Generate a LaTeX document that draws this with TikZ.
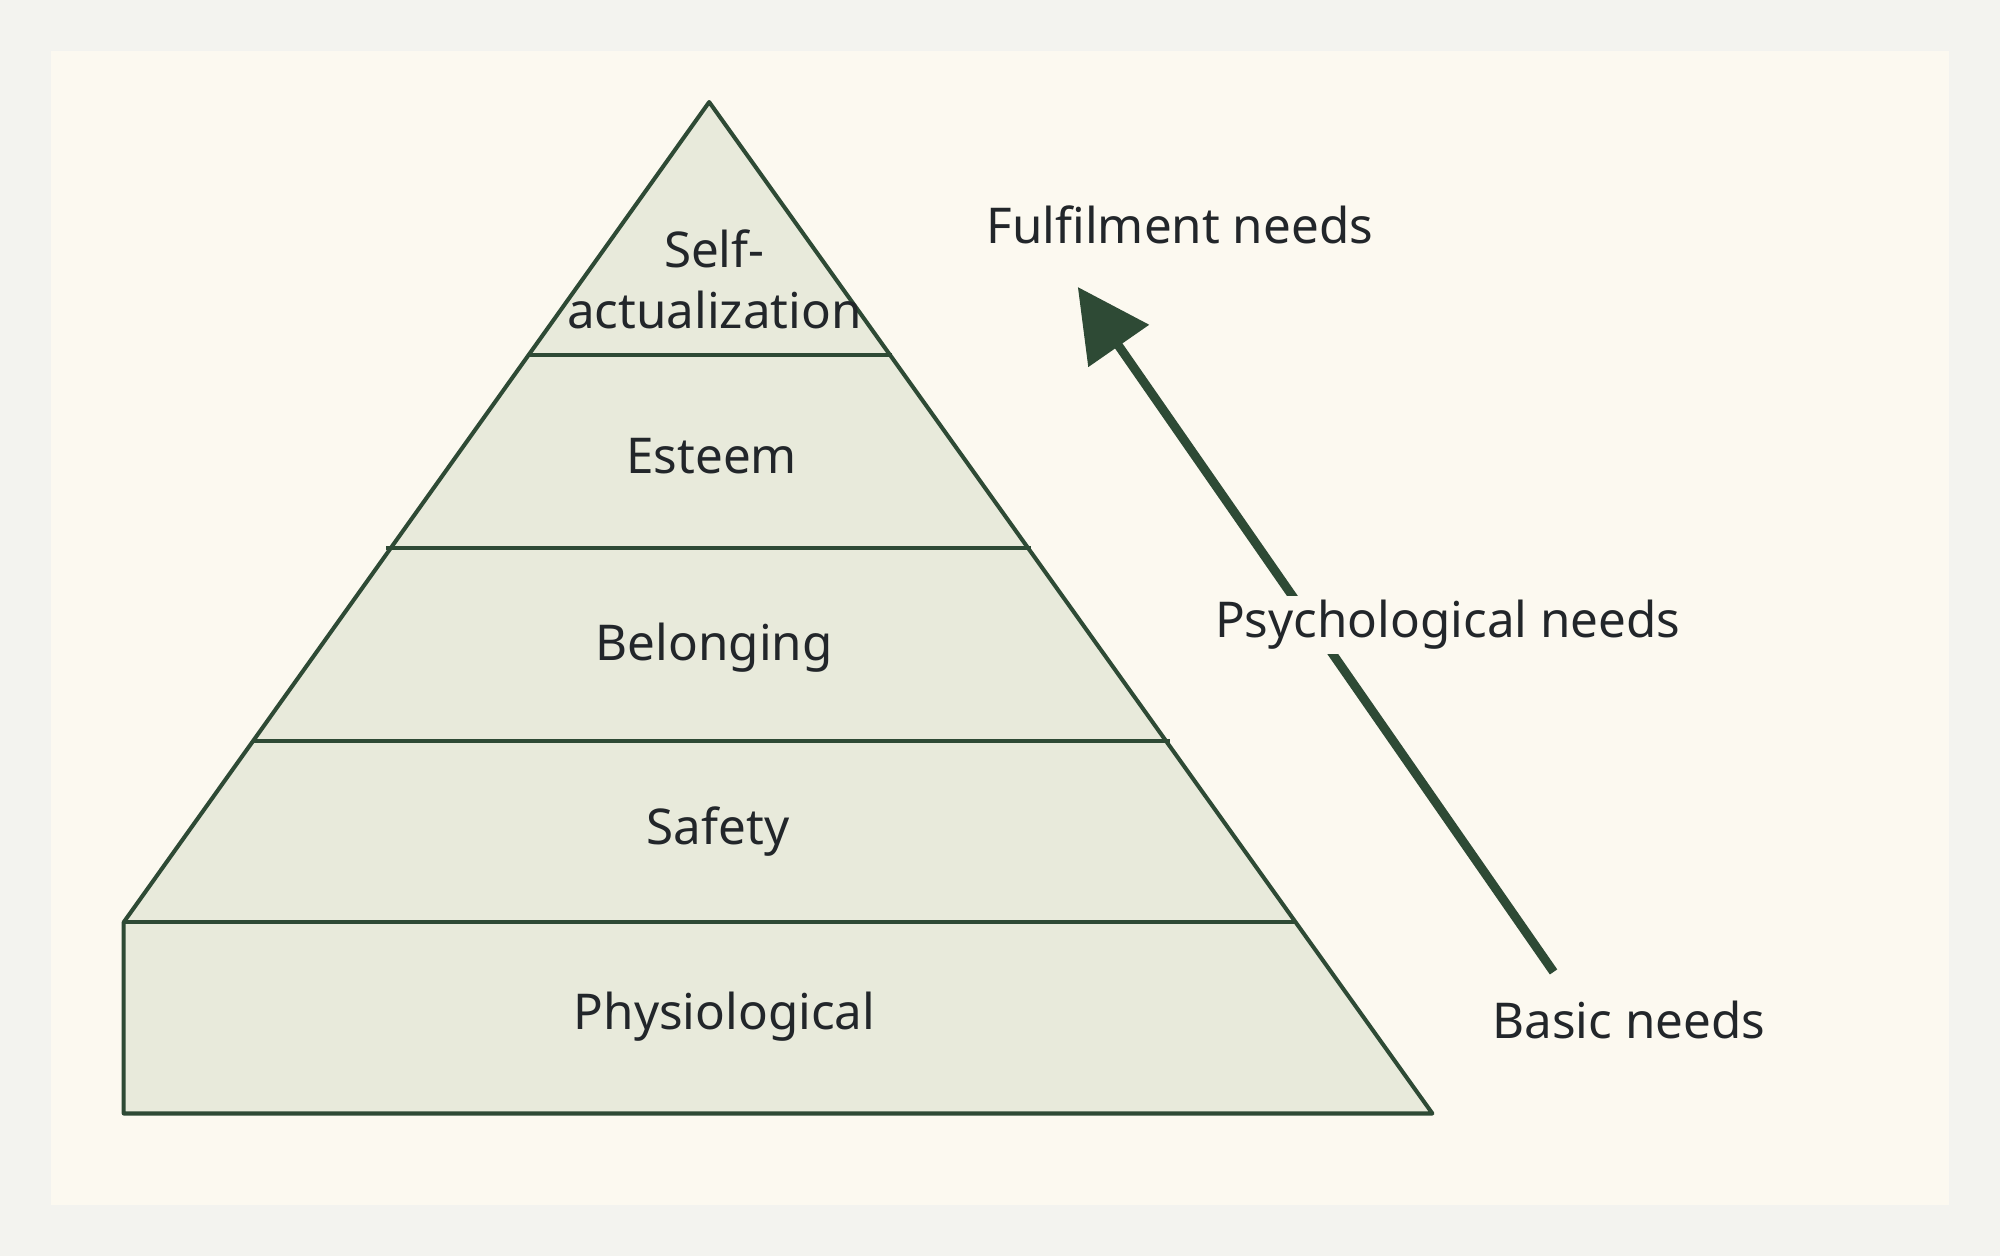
\documentclass[tikz,border=0pt]{standalone}
\usepackage{fontspec}
\setmainfont{Noto Sans}
\usetikzlibrary{arrows.meta}
\definecolor{bgout}{HTML}{F3F3EF}
\definecolor{panel}{HTML}{FCF9F0}
\definecolor{ink}{HTML}{2E4A35}
\definecolor{pfill}{HTML}{E8EADB}
\definecolor{txt}{HTML}{22262A}
\begin{document}
\begin{tikzpicture}[x=0.01cm,y=-0.01cm,
  lvl/.style={text=txt,font=\fontsize{11}{13}\selectfont},
  side/.style={text=txt,font=\fontsize{11}{13}\selectfont}]
\fill[bgout] (0,0) rectangle (1568,985);
\useasboundingbox (0,0) rectangle (1568,985);
\fill[panel] (40,40) rectangle (1528,945);
\coordinate (apex) at (556,80);
\coordinate (bl) at (97,873);
\coordinate (lc) at (97,723);
\coordinate (br) at (1123,873);
\draw[ink,fill=pfill,line width=0.9pt,line join=round] (apex) -- (lc) -- (bl) -- (br) -- cycle;
\draw[ink,line width=0.9pt] (414,278) -- (699,278)
  (303,430) -- (808,430) (199,581) -- (917,581) (97,723) -- (1016,723);
\node[lvl] (sa1) at (560,195) {Self-};
\node[lvl] (sa2) at (560,243) {actualization};
\node[lvl] (est) at (558,358) {Esteem};
\node[lvl] (bel) at (560,508) {Belonging};
\node[lvl] (saf) at (563,652) {Safety};
\node[lvl] (phy) at (568,797) {Physiological};
\coordinate (as) at (1218,762);
\coordinate (ae) at (845,225);
\draw[ink,line width=2pt,-{Triangle[length=16pt,width=16pt]}] (as) -- (ae);
\node[side] (ful) at (925,176) {Fulfilment needs};
\node[side,fill=panel,inner sep=1pt] (psy) at (1135,490) {Psychological needs};
\node[side] (bas) at (1277,800) {Basic needs};
\end{tikzpicture}
\end{document}
